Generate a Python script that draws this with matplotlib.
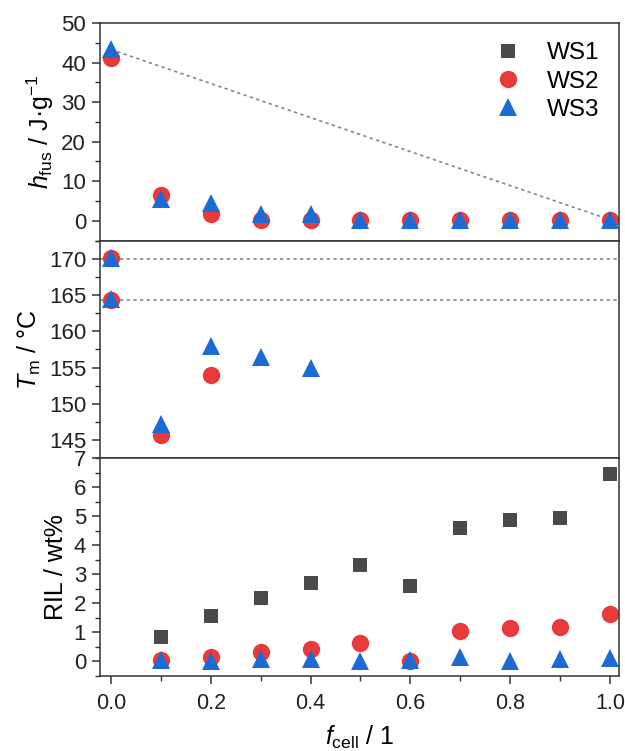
import numpy as np
import matplotlib
matplotlib.use("Agg")
import matplotlib.pyplot as plt
from matplotlib.ticker import MultipleLocator

plt.rcParams["font.family"] = ["Liberation Sans", "DejaVu Sans"]
plt.rcParams["mathtext.fontset"] = "custom"
plt.rcParams["mathtext.rm"] = "Liberation Sans"
plt.rcParams["mathtext.it"] = "Liberation Sans:italic"

f_cell = [0.0, 0.1, 0.2, 0.3, 0.4, 0.5, 0.6, 0.7, 0.8, 0.9, 1.0]

# melting enthalpy
h_ws2 = [41.2, 6.6, 1.7, 0.15, 0.1, 0.1, 0.1, 0.1, 0.1, 0.1, 0.1]
h_ws3 = [43.3, 5.6, 4.55, 1.8, 1.75, 0.2, 0.2, 0.2, 0.2, 0.2, 0.2]
h_mix_x = [0.0, 1.0]
h_mix_y = [43.3, 0.3]

# melting temperature
tm_ws2_x = [0.0, 0.0, 0.1, 0.2]
tm_ws2 = [170.1, 164.3, 145.65, 154.0]
tm_ws3_x = [0.0, 0.0, 0.1, 0.2, 0.3, 0.4]
tm_ws3 = [170.1, 164.5, 147.2, 158.0, 156.4, 154.95]
tm_ref = [170.0, 164.3]

# residual ionic liquid
ril_x = [0.1, 0.2, 0.3, 0.4, 0.5, 0.6, 0.7, 0.8, 0.9, 1.0]
ril_ws1 = [0.84, 1.57, 2.19, 2.71, 3.34, 2.61, 4.59, 4.88, 4.96, 6.47]
ril_ws2 = [0.05, 0.15, 0.31, 0.42, 0.63, 0.03, 1.06, 1.15, 1.19, 1.64]
ril_ws3 = [0.04, 0.0, 0.09, 0.07, 0.0, 0.05, 0.15, 0.0, 0.07, 0.12]

c1 = "#4a4a4a"
c2 = "#e8393b"
c3 = "#1c6ad6"
ms_sq, ms_ci, ms_tr = 10, 12.5, 13

fig = plt.figure(figsize=(6.25, 7.51), dpi=100)
left, right, top, bottom = 0.16, 0.9904, 0.9694, 0.0999
h = (top - bottom) / 3
ax1 = fig.add_axes([left, bottom + 2 * h, right - left, h])
ax2 = fig.add_axes([left, bottom + h, right - left, h], sharex=ax1)
ax3 = fig.add_axes([left, bottom, right - left, h], sharex=ax1)

# top panel
ax1.plot(h_mix_x, h_mix_y, linestyle=(0, (2, 2)), color="#888888", linewidth=1.2, zorder=1)
ax1.plot([], [], "s", color=c1, markersize=ms_sq, markeredgewidth=0, label="WS1")
ax1.plot(f_cell, h_ws2, "o", color=c2, markersize=ms_ci, markeredgewidth=0, label="WS2")
ax1.plot(f_cell, h_ws3, "^", color=c3, markersize=ms_tr, markeredgewidth=0, label="WS3")
ax1.set_ylim(-5, 50)
ax1.yaxis.set_major_locator(MultipleLocator(10))
ax1.yaxis.set_minor_locator(MultipleLocator(5))
ax1.set_ylabel(r"$h_{\mathrm{fus}}$ / J·g$^{\mathrm{-1}}$", fontsize=18)
ax1.legend(loc="upper right", frameon=False, fontsize=17.5, handletextpad=0.6,
           labelspacing=0.25, borderaxespad=0.4)

# middle panel
for y in tm_ref:
    ax2.axhline(y, linestyle=(0, (2, 2)), color="#888888", linewidth=1.2, zorder=1)
ax2.plot(tm_ws2_x, tm_ws2, "o", color=c2, markersize=ms_ci, markeredgewidth=0)
ax2.plot(tm_ws3_x, tm_ws3, "^", color=c3, markersize=ms_tr, markeredgewidth=0)
ax2.set_ylim(142.5, 172.5)
ax2.yaxis.set_major_locator(MultipleLocator(5))
ax2.yaxis.set_minor_locator(MultipleLocator(2.5))
ax2.set_ylabel(r"$T_{\mathrm{m}}$ / °C", fontsize=18)

# bottom panel
ax3.plot(ril_x, ril_ws1, "s", color=c1, markersize=ms_sq, markeredgewidth=0)
ax3.plot(ril_x, ril_ws2, "o", color=c2, markersize=ms_ci, markeredgewidth=0)
ax3.plot(ril_x, ril_ws3, "^", color=c3, markersize=ms_tr, markeredgewidth=0)
ax3.set_ylim(-0.5, 7)
ax3.yaxis.set_major_locator(MultipleLocator(1))
ax3.yaxis.set_minor_locator(MultipleLocator(0.5))
ax3.set_ylabel("RIL / wt%", fontsize=18)

ax3.set_xlim(-0.022, 1.018)
ax3.xaxis.set_major_locator(MultipleLocator(0.2))
ax3.xaxis.set_minor_locator(MultipleLocator(0.1))
ax3.set_xlabel(r"$f_{\mathrm{cell}}$ / 1", fontsize=18, labelpad=7)

for ax in (ax1, ax2, ax3):
    for s in ax.spines.values():
        s.set_linewidth(1.1)
        s.set_color("#333333")
    ax.tick_params(axis="y", which="major", direction="out", length=6, width=1.1,
                   labelsize=16, pad=4, colors="#333333", labelcolor="#222222")
    ax.tick_params(axis="y", which="minor", direction="out", length=3.5, width=1.0,
                   colors="#333333")
    ax.tick_params(axis="x", which="both", bottom=False, labelbottom=False)

ax3.tick_params(axis="x", which="major", bottom=True, labelbottom=True, direction="out",
                length=6, width=1.1, labelsize=15.5, pad=6, colors="#333333",
                labelcolor="#222222")
ax3.tick_params(axis="x", which="minor", bottom=True, direction="out", length=3.5,
                width=1.0, colors="#333333")

fig.savefig("out.png", dpi=100)
